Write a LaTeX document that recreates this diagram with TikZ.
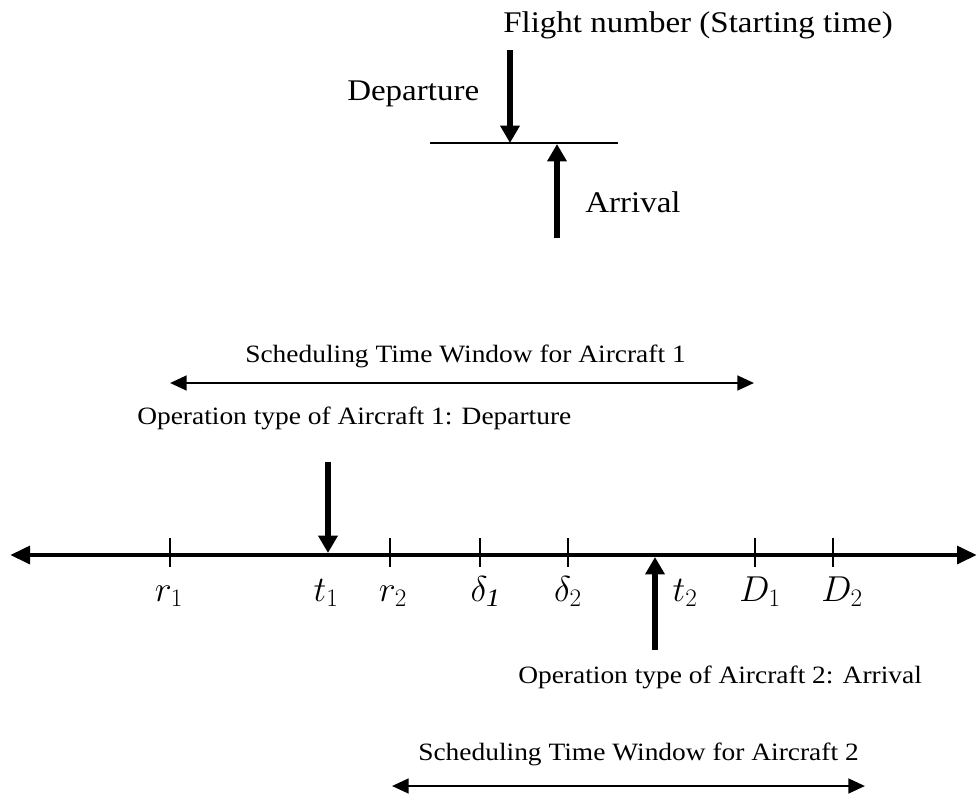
\RequirePackage{fix-cm}
\documentclass[tikz,border=0pt]{standalone}
\usepackage{fontspec}
\setmainfont{Liberation Serif}[FakeStretch=1.1]
\usetikzlibrary{arrows.meta}
\tikzset{
  axisln/.style={{Triangle[length=15pt,width=13pt]}-{Triangle[length=15pt,width=13pt]}, line width=3.7pt},
  tickln/.style={line width=1.5pt},
  opln/.style={-{Triangle[length=13pt,width=14pt]}, line width=4.5pt},
  winln/.style={{Triangle[length=12.5pt,width=11pt]}-{Triangle[length=12.5pt,width=11pt]}, line width=2pt},
  baseln/.style={line width=1.1pt},
  bigtxt/.style={font=\fontsize{22.5}{27}\selectfont, inner sep=0pt, anchor=base west},
  smalltxt/.style={font=\fontsize{18.7}{23}\selectfont, inner sep=0pt, anchor=base west},
  mathlbl/.style={font=\fontsize{27}{32}\selectfont, inner sep=0pt, anchor=base},
}

\begin{document}
\begin{tikzpicture}[x=0.75pt, y=-0.75pt]
    \useasboundingbox (0,0) rectangle (978,797);
    % legend
    \node[bigtxt] (flt) at (503,32) {Flight number (Starting time)};
    \node[bigtxt] (dep) at (347,100) {Departure};
    \node[bigtxt] (arr) at (585,212) {Arrival};
    \coordinate (legL) at (430,143);
    \coordinate (legR) at (618,143);
    \draw[baseln] (legL) -- (legR);
    \coordinate (depS) at (510,50);
    \coordinate (depE) at (510,143);
    \draw[opln] (depS) -- (depE);
    \coordinate (arrS) at (557,238);
    \coordinate (arrE) at (557,144);
    \draw[opln] (arrS) -- (arrE);

    % aircraft 1
    \node[smalltxt] (win1) at (245,362) {Scheduling Time Window for Aircraft 1};
    \coordinate (w1L) at (170,383);
    \coordinate (w1R) at (754,383);
    \draw[winln] (w1L) -- (w1R);
    \node[smalltxt] (op1) at (137,424) {Operation type of Aircraft 1: Departure};

    % time axis
    \coordinate (axL) at (10,555);
    \coordinate (axR) at (977,555);
    \draw[axisln] (axL) -- (axR);
    \foreach \x/\lx/\nm/\lab in {170/169/r1/r_1, 390/393/r2/r_2,
        480/485/d1/\delta_{\mathit{1}}, 568/568/d2/\delta_2,
        755/760/D1/D_1, 833/842/D2/D_2}{
      \draw[tickln] (\x,538) -- (\x,567);
      \node[mathlbl] (\nm) at (\lx,601) {$\lab$};
    }
    \coordinate (t1S) at (328,462);
    \coordinate (t1E) at (328,553);
    \draw[opln] (t1S) -- (t1E);
    \node[mathlbl] (t1) at (326,601) {$t_1$};
    \coordinate (t2S) at (655,650);
    \coordinate (t2E) at (655,557);
    \draw[opln] (t2S) -- (t2E);
    \node[mathlbl] (t2) at (685,601) {$t_2$};

    % aircraft 2
    \node[smalltxt] (op2) at (518,683) {Operation type of Aircraft 2: Arrival};
    \node[smalltxt] (win2) at (418,760) {Scheduling Time Window for Aircraft 2};
    \coordinate (w2L) at (392,786);
    \coordinate (w2R) at (865,786);
    \draw[winln] (w2L) -- (w2R);
  \end{tikzpicture}
\end{document}
